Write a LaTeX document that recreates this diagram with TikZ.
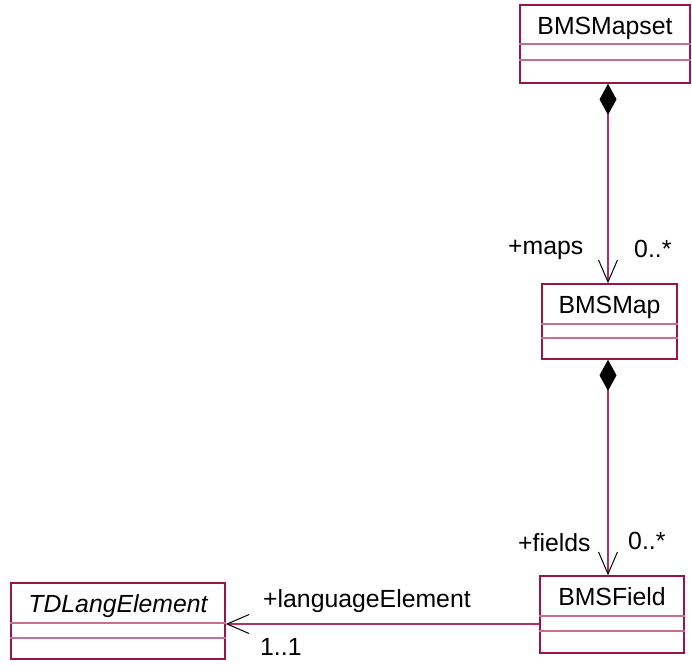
\documentclass[tikz,border=0pt]{standalone}
\usepackage{fontspec}
\setmainfont{Liberation Sans}
\usetikzlibrary{arrows.meta}
\definecolor{umlborder}{RGB}{155,20,70}
\definecolor{umldiv}{RGB}{200,110,145}
\definecolor{umlline}{RGB}{170,50,100}
\begin{document}
\begin{tikzpicture}[x=1pt,y=-1pt,
  font=\fontsize{24.8}{29}\selectfont,
  cls/.style={draw=umlborder,line width=1.6pt,fill=white,inner sep=0pt,rectangle},
  divline/.style={draw=umldiv,line width=1.3pt},
  conn/.style={draw=umlline,line width=1.2pt},
  lbl/.style={anchor=base west,inner sep=0pt},
  cname/.style={anchor=base,inner sep=0pt,yshift=-30pt},
  comp/.style={{Diamond[length=31pt,width=17pt,fill=black,color=black]}-{Straight Barb[length=22pt,width=19pt,color=black,line width=1pt]}},
  nav/.style={-{Straight Barb[length=22pt,width=19pt,color=black,line width=1pt]}}
]
\useasboundingbox (0,0) rectangle (692,670);
% classes
\node[cls,minimum width=170pt,minimum height=78pt] (mapset) at (605,44) {};
\node[cls,minimum width=135pt,minimum height=75pt] (map) at (609.5,321.5) {};
\node[cls,minimum width=144pt,minimum height=77pt] (field) at (612,614.5) {};
\node[cls,minimum width=214pt,minimum height=76pt] (tdl) at (118,621) {};
% dividers
\draw[divline] (mapset.west |- 0,44) -- (mapset.east |- 0,44);
\draw[divline] (mapset.west |- 0,60) -- (mapset.east |- 0,60);
\draw[divline] (map.west |- 0,324) -- (map.east |- 0,324);
\draw[divline] (map.west |- 0,338) -- (map.east |- 0,338);
\draw[divline] (field.west |- 0,616) -- (field.east |- 0,616);
\draw[divline] (field.west |- 0,631) -- (field.east |- 0,631);
\draw[divline] (tdl.west |- 0,623) -- (tdl.east |- 0,623);
\draw[divline] (tdl.west |- 0,638) -- (tdl.east |- 0,638);
% names
\node[cname] (mapsetname) at (mapset.north) {BMSMapset};
\node[cname] (mapname) at (map.north) {BMSMap};
\node[cname] (fieldname) at (field.north) {BMSField};
\node[cname] (tdlname) at (tdl.north) {\itshape TDLangElement};
% connectors
\coordinate (linex) at (608,0);
\coordinate (langy) at (0,624);
\draw[conn,comp] (mapset.south -| linex) -- (map.north -| linex);
\draw[conn,comp] (map.south -| linex) -- (field.north -| linex);
\draw[conn,nav] (field.west |- langy) -- (tdl.east |- langy);
% labels
\node[lbl] (lmaps) at (508,254) {+maps};
\node[lbl] (mmaps) at (634,257) {0..*};
\node[lbl] (lfields) at (518,551) {+fields};
\node[lbl] (mfields) at (628,549) {0..*};
\node[lbl] (llang) at (263,607) {+languageElement};
\node[lbl] (mlang) at (260,655) {1..1};
\end{tikzpicture}
\end{document}
